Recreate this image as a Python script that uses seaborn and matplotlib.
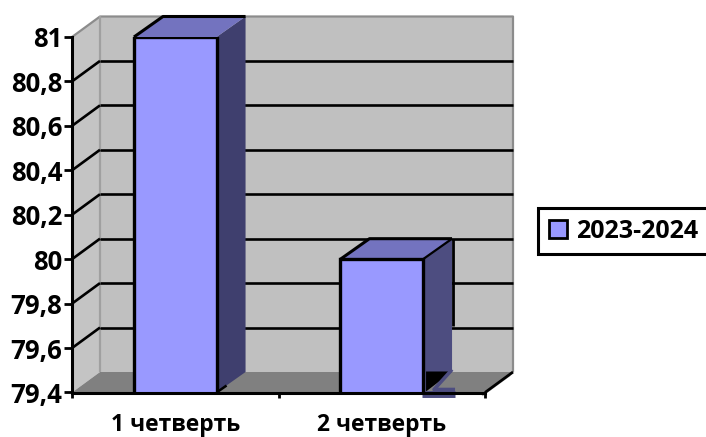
import matplotlib
matplotlib.use("Agg")
import matplotlib.pyplot as plt
import pandas as pd
import seaborn as sns
from matplotlib.patches import Polygon, Patch
from matplotlib.lines import Line2D
from matplotlib.transforms import IdentityTransform

categories = ["1 четверть", "2 четверть"]
values = [81.0, 80.0]
series_name = "2023-2024"
y_ticks = [79.4, 79.6, 79.8, 80.0, 80.2, 80.4, 80.6, 80.8, 81.0]

W, H = 706, 437
DX, DY = 28, 20.5
BDX = 29
FRONT = "#9999FF"
TOPS = ["#7373BF", "#7373BF"]
SIDES = ["#3F3F6E", "#4D4D80"]

sns.set_theme(style="white")
plt.rcParams["font.family"] = ["Open Sans", "DejaVu Sans"]

fig = plt.figure(figsize=(W / 100, H / 100), dpi=100, facecolor="white")
ax = fig.add_axes([72 / W, (H - 392.5) / H, 413 / W, 355.5 / H])
ax.patch.set_alpha(0)

df = pd.DataFrame({"quarter": categories, "value": values, "series": series_name})
sns.barplot(data=df, x="quarter", y="value", hue="series", palette=[FRONT], width=0.4,
            edgecolor="black", linewidth=2.4, legend=False, ax=ax, zorder=5, saturation=1)
ax.set_xlim(-0.5, 1.5)
ax.set_ylim(y_ticks[0], y_ticks[-1])
ax.set_xlabel("")
ax.set_ylabel("")


def px(x, y):
    return tuple(ax.transData.transform((x, y)))


def poly(pts, color, z, ec="none", lw=0):
    ax.add_patch(Polygon(pts, closed=True, facecolor=color, edgecolor=ec, linewidth=lw,
                         transform=IdentityTransform(), clip_on=False, zorder=z))


def seg(pts, color="black", lw=2.0, z=3):
    ax.add_line(Line2D([p[0] for p in pts], [p[1] for p in pts], color=color, lw=lw,
                       transform=IdentityTransform(), clip_on=False, zorder=z,
                       solid_capstyle="butt"))


x0, x1 = ax.get_xlim()
y0, y1 = ax.get_ylim()
bl, br, tl = px(x0, y0), px(x1, y0), px(x0, y1)
off = lambda p, k=1.0: (p[0] + DX * k, p[1] + DY * k)
tr = px(x1, y1)

# walls and floor
poly([off(bl), off(br), off(tr), off(tl)], "#C0C0C0", 0.5)
poly([bl, off(bl), off(tl), tl], "#C4C4C4", 0.6)
poly([bl, br, off(br), off(bl)], "#808080", 0.7)
seg([tl, off(tl), off(tr), off(br)], "#8C8C8C", 1.6, 0.8)
seg([off(tl), off(bl)], "#A0A0A0", 1.6, 0.8)
seg([br, off(br)], "black", 2.0, 1.2)
seg([(br[0] - 3, br[1] - 3), (off(br)[0] - 3, off(br)[1] - 3)], "#B5B5B5", 1.5, 1.1)

# gridlines on the back wall and the left wall
for v in y_ticks[1:-1]:
    p = px(x0, v)
    q = px(x1, v)
    seg([p, off(p)], "black", 1.9, 1)
    seg([off(p), off(q)], "black", 1.9, 1)

# depth faces of the bars
for i, v in enumerate(values):
    half = 0.2
    fl_b, fr_b = px(i - half, y0), px(i + half, y0)
    fl_t, fr_t = px(i - half, v), px(i + half, v)
    back = lambda p: (p[0] + BDX, p[1] + DY)
    poly([fr_b, back(fr_b), back(fr_t), fr_t], SIDES[i], 4)
    poly([fl_t, fr_t, back(fr_t), back(fl_t)], TOPS[i], 4)
    seg([fl_t, back(fl_t), back(fr_t)], "black", 2.2, 4.5)
    if i == 0:
        seg([fr_b, (fr_b[0] + 10, fr_b[1] + 7)], "black", 1.8, 4.5)
    else:
        seg([back(fr_t), fr_t], "black", 1.6, 4.5)
        seg([(back(fr_t)[0] + 0.5, back(fr_t)[1]), (back(fr_t)[0] + 0.5, px(0, 79.8)[1] - 22)],
            "black", 2.0, 4.5)
        # stray drawing artefact at the base of the second bar
        poly([(fr_b[0] + 3, fr_b[1] + 21), (fr_b[0] + BDX, fr_b[1] + 21), (fr_b[0] + 3, fr_b[1] + 1)],
             "black", 4.6)
        seg([(fr_b[0] + 29, fr_b[1] + 23), (fr_b[0] + 11, fr_b[1] + 3), (fr_b[0] + 32, fr_b[1] + 3)],
            SIDES[1], 2.6, 4.7)
        seg([(fr_b[0] - 1, fr_b[1] - 1.5), (fr_b[0] + 32, fr_b[1] - 1.5)], SIDES[1], 5, 4.7)

# axes
for name in ("top", "right"):
    ax.spines[name].set_visible(False)
for name in ("left", "bottom"):
    ax.spines[name].set_linewidth(2.2)
    ax.spines[name].set_color("black")
    ax.spines[name].set_zorder(6)
ax.set_yticks(y_ticks)
ax.set_yticklabels([f"{t:g}".replace(".", ",") for t in y_ticks], fontsize=18.5,
                   fontweight="bold", color="black")
ax.tick_params(axis="y", length=6, width=2, color="black", pad=1, left=True)
ax.set_xticks([0, 1])
ax.set_xticklabels(categories, fontsize=16.5, fontweight="bold", color="black")
ax.tick_params(axis="x", length=0, pad=15, bottom=True)
mid = px(0.5, y0)
for xp in (bl[0], mid[0], br[0]):
    seg([(xp, bl[1]), (xp, bl[1] - 6)], "black", 2, 6)

# legend
handle = Patch(facecolor=FRONT, edgecolor="black", linewidth=2)
leg = ax.legend([handle], [series_name], loc="center left",
                bbox_to_anchor=(538 / W, (H - 231) / H), bbox_transform=fig.transFigure,
                fancybox=False, framealpha=1, edgecolor="black", borderaxespad=0,
                handlelength=0.72, handleheight=0.72, handletextpad=0.4, borderpad=0.42,
                labelcolor="black",
                prop={"family": ["Open Sans", "DejaVu Sans"], "weight": "bold", "size": 18})
leg.get_frame().set_linewidth(2.2)

fig.savefig("out.png", dpi=100, facecolor="white")
